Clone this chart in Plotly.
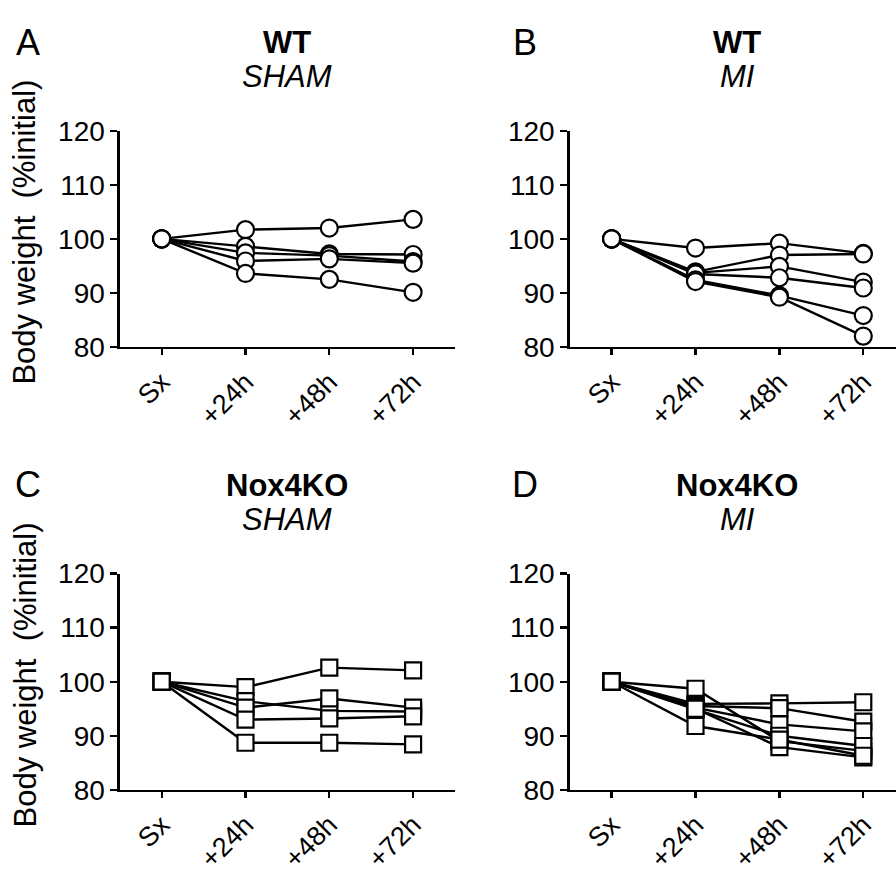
import plotly.graph_objects as go

W, H = 896, 882
FONT = "Liberation Sans, Arial, sans-serif"

time_labels = ["Sx", "+24h", "+48h", "+72h"]

wt_sham = [
    [100, 101.7, 102.0, 103.6],
    [100, 98.6, 97.2, 97.1],
    [100, 97.4, 96.9, 95.8],
    [100, 95.9, 96.3, 95.5],
    [100, 93.6, 92.5, 90.1],
]
wt_mi = [
    [100, 98.3, 99.2, 97.3],
    [100, 93.9, 97.0, 97.2],
    [100, 93.7, 94.9, 92.0],
    [100, 93.5, 92.8, 90.9],
    [100, 92.4, 89.5, 85.8],
    [100, 92.1, 89.2, 82.0],
]
ko_sham = [
    [100, 99.0, 102.6, 102.1],
    [100, 96.4, 94.6, 94.5],
    [100, 95.2, 96.9, 95.2],
    [100, 93.0, 93.2, 93.6],
    [100, 88.7, 88.7, 88.4],
]
ko_mi = [
    [100, 98.7, 89.0, 87.2],
    [100, 95.9, 96.0, 96.2],
    [100, 95.5, 95.1, 92.6],
    [100, 95.2, 92.1, 90.8],
    [100, 94.9, 90.0, 88.1],
    [100, 95.0, 87.9, 86.0],
    [100, 91.8, 89.3, 86.3],
]

panel_letters = ["A", "B", "C", "D"]
genotypes = ["WT", "WT", "Nox4KO", "Nox4KO"]
surgeries = ["SHAM", "MI", "SHAM", "MI"]
y_ticks = [80, 90, 100, 110, 120]
y_title = "Body weight\u00a0\u00a0(%initial)"

panels = [
    dict(data=wt_sham, symbol="circle", size=17, xd=(119.8, 455), yd=(120, 344), xr=3.5),
    dict(data=wt_mi, symbol="circle", size=17, xd=(569.7, 896), yd=(120, 344), xr=3.39),
    dict(data=ko_sham, symbol="square", size=16, xd=(119.8, 455), yd=(579, 803), xr=3.5),
    dict(data=ko_mi, symbol="square", size=16, xd=(569.7, 896), yd=(579, 803), xr=3.39),
]

fig = go.Figure()
layout = dict(
    width=W, height=H, margin=dict(l=0, r=0, t=0, b=0),
    paper_bgcolor="white", plot_bgcolor="white", showlegend=False,
    font=dict(family=FONT, color="black"), hovermode=False,
)
annotations = []

for i, p in enumerate(panels):
    n = "" if i == 0 else str(i + 1)
    xa, ya = "x" + n, "y" + n
    for s in p["data"]:
        fig.add_trace(go.Scatter(x=time_labels, y=s, mode="lines",
                                 line=dict(color="black", width=2.4),
                                 xaxis=xa, yaxis=ya, hoverinfo="skip"))
    for s in p["data"]:
        fig.add_trace(go.Scatter(x=time_labels, y=s, mode="markers",
                                 marker=dict(symbol=p["symbol"], size=p["size"], color="white",
                                             line=dict(color="black", width=2.2)),
                                 xaxis=xa, yaxis=ya))
    x0, x1 = p["xd"]
    y0, y1 = p["yd"]
    layout["xaxis" + n] = dict(
        domain=[x0 / W, x1 / W], anchor=ya, type="category",
        categoryorder="array", categoryarray=time_labels,
        range=[-0.5, p["xr"]], showline=True, linecolor="black", linewidth=2.4,
        ticks="outside", ticklen=6, tickwidth=2.4, tickcolor="black",
        tickangle=-45, tickfont=dict(size=27, family=FONT, color="black"),
        showgrid=False, zeroline=False, fixedrange=True,
    )
    layout["yaxis" + n] = dict(
        domain=[1 - y1 / H, 1 - y0 / H], anchor=xa, range=[80, 120],
        tickvals=y_ticks, showline=True, linecolor="black", linewidth=2.4,
        ticks="outside", ticklen=7, tickwidth=2.4, tickcolor="black",
        tickfont=dict(size=28, family=FONT, color="black"),
        showgrid=False, zeroline=False, fixedrange=True,
    )
    cx = x0 + (2.0 / (p["xr"] + 0.5)) * (x1 - x0)
    top = y0 - 120
    annotations.append(dict(text="<b>%s</b>" % genotypes[i], x=cx / W, y=1 - (top + 29) / H,
                            xref="paper", yref="paper", showarrow=False,
                            xanchor="center", yanchor="middle", font=dict(size=31, family=FONT)))
    annotations.append(dict(text="<i>%s</i>" % surgeries[i], x=cx / W, y=1 - (top + 64) / H,
                            xref="paper", yref="paper", showarrow=False,
                            xanchor="center", yanchor="middle", font=dict(size=31, family=FONT)))
    lx = 28 if i % 2 == 0 else 525
    annotations.append(dict(text=panel_letters[i], x=lx / W, y=1 - (top + 28) / H,
                            xref="paper", yref="paper", showarrow=False,
                            xanchor="center", yanchor="middle", font=dict(size=36, family=FONT)))
    if i % 2 == 0:
        annotations.append(dict(text=y_title, x=25 / W, y=1 - (top + 225.5) / H,
                                xref="paper", yref="paper", showarrow=False, textangle=-90,
                                xanchor="center", yanchor="middle", font=dict(size=31, family=FONT)))

layout["annotations"] = annotations
fig.update_layout(**layout)
fig.write_html("out.html",
               config={"displayModeBar": False, "staticPlot": True},
               post_script="document.body.style.margin='0';document.body.style.overflow='hidden';")
